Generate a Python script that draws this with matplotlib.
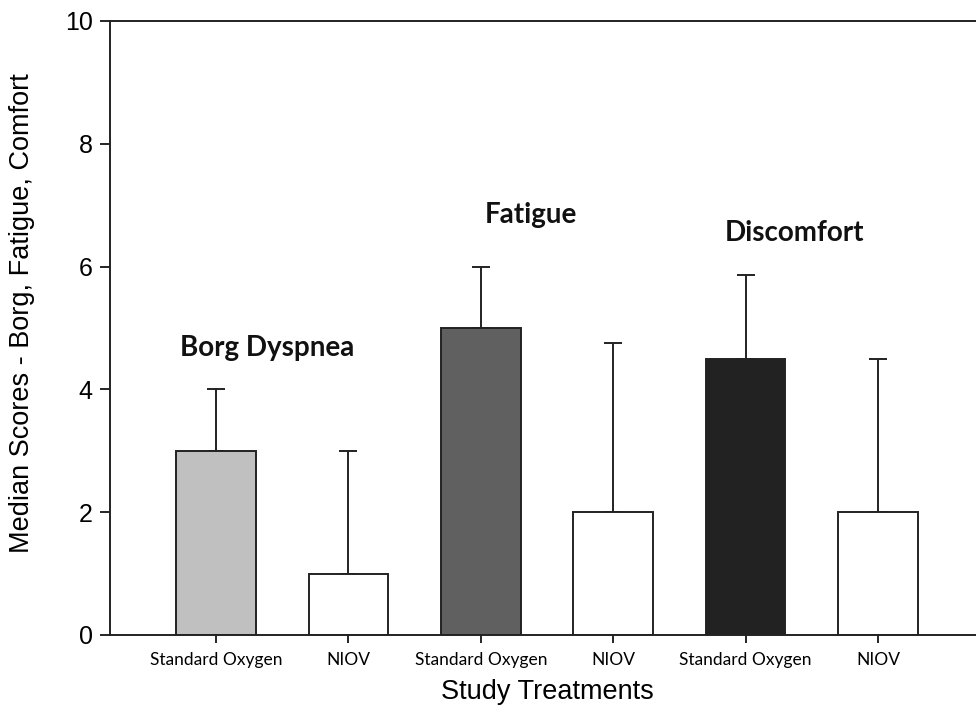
import matplotlib.pyplot as plt
import numpy as np

# Data
tick_labels = ['Standard Oxygen', 'NIOV', 'Standard Oxygen', 'NIOV', 'Standard Oxygen', 'NIOV']
medians = [3.0, 1.0, 5.0, 2.0, 4.5, 2.0]
upper = [4.0, 3.0, 6.0, 4.75, 5.87, 4.5]
colors = ['#c0c0c0', '#ffffff', '#606060', '#ffffff', '#222222', '#ffffff']
groups = ['Borg Dyspnea', 'Fatigue', 'Discomfort']
group_pos = [(0.39, 4.67), (2.38, 6.84), (4.37, 6.55)]

fig = plt.figure(figsize=(9.76, 7.10), dpi=100)
ax = fig.add_axes([110 / 976, 1 - 635 / 710, 874 / 976, 614 / 710])

x = np.arange(len(medians))
ax.bar(x, medians, width=0.6, color=colors, edgecolor='#222222', linewidth=1.4, zorder=2)
err_hi = np.array(upper) - np.array(medians)
ax.errorbar(x, medians, yerr=[np.zeros(len(x)), err_hi], fmt='none',
            ecolor='#222222', elinewidth=1.4, capsize=6.5, capthick=1.4, zorder=1)

for name, (gx, gy) in zip(groups, group_pos):
    ax.text(gx, gy, name, ha='center', va='center', fontsize=20,
            fontweight='bold', family='Lato', color='#111111')

ax.set_xlim(-0.8, 5.8)
ax.set_ylim(0, 10)
ax.set_yticks(np.arange(0, 11, 2))
ax.set_xticks(x)
ax.set_xticklabels(tick_labels, family='Lato', fontsize=12.5)
ax.tick_params(axis='y', direction='out', length=7.5, width=1.2, labelsize=18, pad=5)
ax.tick_params(axis='x', direction='out', length=6, width=1.2, pad=6)
for lab in ax.get_yticklabels():
    lab.set_family('Liberation Sans')
for sp in ax.spines.values():
    sp.set_linewidth(1.4)
    sp.set_color('#222222')

ax.set_ylabel('Median Scores - Borg, Fatigue, Comfort', family='Liberation Sans',
              fontsize=19.5, ha='center', va='center')
ax.yaxis.set_label_coords(-0.1007, 0.524)
ax.set_xlabel('Study Treatments', family='Liberation Sans', fontsize=19.5, labelpad=8)

fig.savefig('out.png', dpi=100)
